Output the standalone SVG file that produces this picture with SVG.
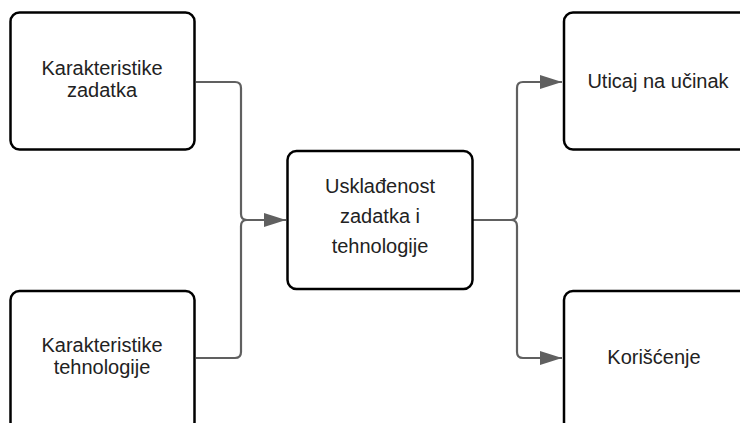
<svg xmlns="http://www.w3.org/2000/svg" width="740" height="423" viewBox="0 0 740 423">
  <defs>
    <marker id="arrow" viewBox="0 0 22 14" refX="22" refY="7" markerWidth="22" markerHeight="14" markerUnits="userSpaceOnUse" orient="auto">
      <path d="M0,0 L22,7 L0,14 Z" fill="#606060"/>
    </marker>
    <style>
      .box { fill: #ffffff; stroke: #000000; stroke-width: 2.5; }
      .lbl { font-family: "Liberation Sans", Arial, sans-serif; font-size: 20px; fill: #222222; text-anchor: middle; }
      .wire { fill: none; stroke: #606060; stroke-width: 2.2; }
    </style>
  </defs>
  <rect width="740" height="423" fill="#ffffff"/>

  <g id="connectors">
    <path class="wire" d="M196,82 H235 Q241,82 241,88 V214 Q241,220 247,220 H286" marker-end="url(#arrow)"/>
    <path class="wire" d="M196,358 H235 Q241,358 241,352 V226 Q241,220 247,220 H286"/>
    <path class="wire" d="M473,220 H511 Q517,220 517,214 V88 Q517,82 523,82 H562" marker-end="url(#arrow)"/>
    <path class="wire" d="M473,220 H511 Q517,220 517,226 V352 Q517,358 523,358 H562" marker-end="url(#arrow)"/>
  </g>

  <g id="karakteristike-zadatka">
    <rect class="box" x="10.5" y="12.5" width="184" height="137" rx="9"/>
    <text class="lbl" x="102" y="75">Karakteristike</text>
    <text class="lbl" x="102" y="97">zadatka</text>
  </g>

  <g id="karakteristike-tehnologije">
    <rect class="box" x="10.5" y="291" width="184" height="140" rx="9"/>
    <text class="lbl" x="102" y="352">Karakteristike</text>
    <text class="lbl" x="102" y="374">tehnologije</text>
  </g>

  <g id="uskladjenost">
    <rect class="box" x="287.5" y="151" width="185" height="138" rx="9"/>
    <text class="lbl" x="380" y="193">Usklađenost</text>
    <text class="lbl" x="380" y="223">zadatka i</text>
    <text class="lbl" x="380" y="253">tehnologije</text>
  </g>

  <g id="uticaj">
    <rect class="box" x="564" y="12.5" width="190" height="137" rx="9"/>
    <text class="lbl" x="658" y="88">Uticaj na učinak</text>
  </g>

  <g id="koriscenje">
    <rect class="box" x="564" y="291" width="190" height="140" rx="9"/>
    <text class="lbl" x="654" y="364">Korišćenje</text>
  </g>
</svg>
